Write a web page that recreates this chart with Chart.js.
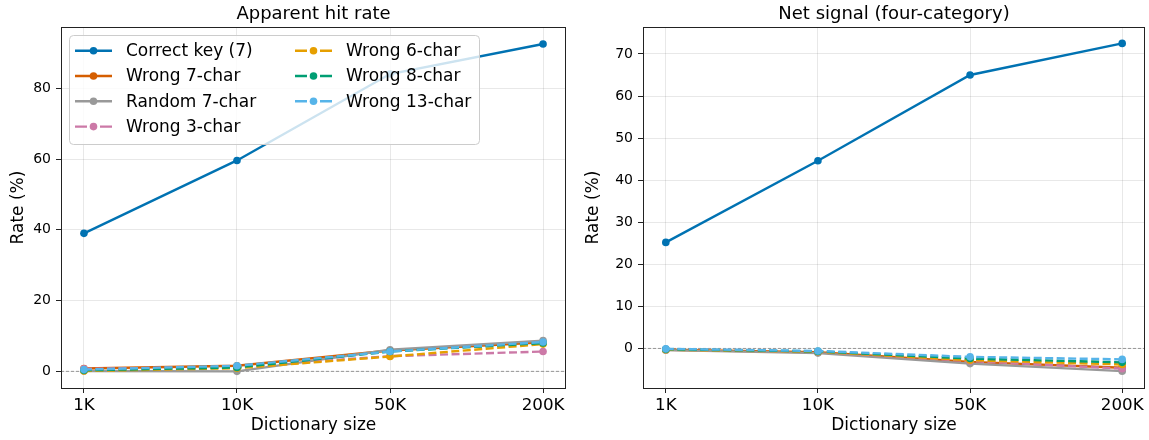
<!DOCTYPE html>
<html lang="en">
<head>
    <meta charset="UTF-8">
    <title>Apparent hit rate / Net signal</title>
    <script src="https://cdn.jsdelivr.net/npm/chart.js"></script>
    <style>
        html, body {
            margin: 0;
            padding: 0;
            background: #fff;
        }
        .panel {
            position: absolute;
            top: 0;
            height: 440px;
        }
        #leftPanel { left: 0; width: 575px; }
        #rightPanel { left: 575px; width: 574px; }
    </style>
</head>
<body>
    <div class="panel" id="leftPanel"><canvas id="hitChart"></canvas></div>
    <div class="panel" id="rightPanel"><canvas id="netChart"></canvas></div>

    <script>
        // Datos
        const dictSizes = ['1K', '10K', '50K', '200K'];
        const seriesNames = ['Correct key (7)', 'Wrong 7-char', 'Random 7-char', 'Wrong 3-char',
                             'Wrong 6-char', 'Wrong 8-char', 'Wrong 13-char'];
        const seriesColors = ['#0072B2', '#D55E00', '#999999', '#CC79A7', '#E69F00', '#009E73', '#56B4E9'];
        const seriesDashed = [false, false, false, true, true, true, true];

        // Apparent hit rate (%)
        const hitCorrect = [39.0, 59.6, 84.0, 92.5];
        const hitWrong7 = [0.8, 1.6, 5.9, 8.2];
        const hitRandom7 = [0.1, 0.0, 6.1, 8.7];
        const hitWrong3 = [0.7, 1.3, 4.3, 5.6];
        const hitWrong6 = [0.1, 0.9, 4.2, 7.7];
        const hitWrong8 = [0.3, 1.1, 5.6, 8.0];
        const hitWrong13 = [0.5, 1.6, 5.6, 8.3];

        // Net signal (four-category) (%)
        const netCorrect = [25.2, 44.6, 65.0, 72.5];
        const netWrong7 = [-0.3, -0.9, -3.2, -4.6];
        const netRandom7 = [-0.4, -1.1, -3.6, -5.4];
        const netWrong3 = [-0.2, -0.8, -3.0, -4.8];
        const netWrong6 = [-0.3, -0.8, -2.8, -3.8];
        const netWrong8 = [-0.2, -0.7, -2.4, -3.3];
        const netWrong13 = [-0.1, -0.6, -2.0, -2.6];

        const hitTicks = [0, 20, 40, 60, 80];
        const netTicks = [0, 10, 20, 30, 40, 50, 60, 70];

        const FONT = 'DejaVu Sans';
        const DASH = [8, 3.5];

        function makeDatasets(seriesList) {
            return seriesList.map((values, i) => ({
                label: seriesNames[i],
                data: values.map((v, k) => ({ x: k, y: v })),
                borderColor: seriesColors[i],
                backgroundColor: seriesColors[i],
                pointBackgroundColor: seriesColors[i],
                pointBorderWidth: 0,
                pointRadius: 3.8,
                borderWidth: 2.4,
                borderDash: seriesDashed[i] ? DASH : [],
                order: seriesList.length - i,
                tension: 0
            }));
        }

        // línea punteada en y = 0
        const zeroLine = {
            id: 'zeroLine',
            beforeDatasetsDraw(chart) {
                const { ctx, chartArea, scales } = chart;
                const y = scales.y.getPixelForValue(0);
                ctx.save();
                ctx.strokeStyle = '#808080';
                ctx.lineWidth = 0.8;
                ctx.setLineDash([3, 2]);
                ctx.beginPath();
                ctx.moveTo(chartArea.left, y);
                ctx.lineTo(chartArea.right, y);
                ctx.stroke();
                ctx.restore();
            }
        };

        // marco negro alrededor del área
        const frame = {
            id: 'frame',
            afterDraw(chart) {
                const { ctx, chartArea: a } = chart;
                ctx.save();
                ctx.strokeStyle = '#222';
                ctx.lineWidth = 1;
                ctx.strokeRect(Math.round(a.left) + 0.5, Math.round(a.top) + 0.5,
                               Math.round(a.right - a.left) - 1, Math.round(a.bottom - a.top));
                ctx.restore();
            }
        };

        // leyenda en dos columnas, dentro del gráfico
        const boxLegend = {
            id: 'boxLegend',
            afterDraw(chart) {
                const { ctx, chartArea: a } = chart;
                const sets = chart.data.datasets;
                const bx = a.left + 8, by = a.top + 8, bw = 410, bh = 109;
                ctx.save();
                ctx.fillStyle = 'rgba(255,255,255,0.8)';
                ctx.strokeStyle = '#cccccc';
                ctx.lineWidth = 1;
                ctx.beginPath();
                ctx.roundRect(bx + 0.5, by + 0.5, bw, bh, 4);
                ctx.fill();
                ctx.stroke();

                ctx.font = '17px ' + FONT;
                ctx.textBaseline = 'middle';
                ctx.textAlign = 'left';
                sets.forEach((ds, i) => {
                    const col = i < 4 ? 0 : 1;
                    const row = i < 4 ? i : i - 4;
                    const x0 = bx + 6 + col * 220;
                    const y = by + 15.7 + row * 25.3;
                    ctx.strokeStyle = ds.borderColor;
                    ctx.fillStyle = ds.borderColor;
                    ctx.lineWidth = 2.4;
                    ctx.beginPath();
                    if (seriesDashed[i]) {
                        ctx.moveTo(x0, y); ctx.lineTo(x0 + 12, y);
                        ctx.moveTo(x0 + 25, y); ctx.lineTo(x0 + 37, y);
                    } else {
                        ctx.moveTo(x0, y); ctx.lineTo(x0 + 37, y);
                    }
                    ctx.stroke();
                    ctx.beginPath();
                    ctx.arc(x0 + 18.5, y, 3.8, 0, Math.PI * 2);
                    ctx.fill();
                    ctx.fillStyle = '#000';
                    ctx.fillText(ds.label, x0 + 51, y + 1);
                });
                ctx.restore();
            }
        };

        function makeOptions(title, yMin, yMax, yTicks, yWidth, rightPad) {
            return {
                responsive: true,
                maintainAspectRatio: false,
                animation: false,
                layout: { padding: { left: 0, right: rightPad, top: 0, bottom: 0 } },
                plugins: {
                    legend: { display: false },
                    tooltip: { enabled: false },
                    title: {
                        display: true,
                        text: title,
                        fullSize: false,
                        color: '#000',
                        font: { family: FONT, size: 18, weight: 'normal' },
                        padding: { top: 4, bottom: 1.4 }
                    }
                },
                scales: {
                    x: {
                        type: 'linear',
                        min: -0.15,
                        max: 3.15,
                        afterBuildTicks: (scale) => {
                            scale.ticks = dictSizes.map((_, k) => ({ value: k }));
                        },
                        afterFit: (scale) => { scale.height = 52; },
                        ticks: {
                            callback: (v) => dictSizes[v],
                            color: '#000',
                            font: { family: FONT, size: 16.7 },
                            padding: 3,
                            maxRotation: 0
                        },
                        grid: { color: 'rgba(0,0,0,0.09)', tickColor: '#222', tickLength: 5 },
                        border: { display: false },
                        title: {
                            display: true,
                            text: 'Dictionary size',
                            color: '#000',
                            font: { family: FONT, size: 17 },
                            padding: { top: 2, bottom: 4 }
                        }
                    },
                    y: {
                        min: yMin,
                        max: yMax,
                        afterBuildTicks: (scale) => {
                            scale.ticks = yTicks.map(v => ({ value: v }));
                        },
                        afterFit: (scale) => { scale.width = yWidth; },
                        ticks: {
                            color: '#000',
                            font: { family: FONT, size: 14 },
                            padding: 5
                        },
                        grid: { color: 'rgba(0,0,0,0.09)', tickColor: '#222', tickLength: 5 },
                        border: { display: false },
                        title: {
                            display: true,
                            text: 'Rate (%)',
                            color: '#000',
                            font: { family: FONT, size: 17 },
                            padding: { top: 8, bottom: 0 }
                        }
                    }
                }
            };
        }

        const hitChart = new Chart(document.getElementById('hitChart'), {
            type: 'line',
            data: {
                datasets: makeDatasets([hitCorrect, hitWrong7, hitRandom7, hitWrong3,
                                        hitWrong6, hitWrong8, hitWrong13])
            },
            options: makeOptions('Apparent hit rate', -4.7, 97.3, hitTicks, 61, 9),
            plugins: [zeroLine, frame, boxLegend]
        });

        const netChart = new Chart(document.getElementById('netChart'), {
            type: 'line',
            data: {
                datasets: makeDatasets([netCorrect, netWrong7, netRandom7, netWrong3,
                                        netWrong6, netWrong8, netWrong13])
            },
            options: makeOptions('Net signal (four-category)', -9.4, 76.4, netTicks, 68, 2),
            plugins: [zeroLine, frame]
        });
    </script>
</body>
</html>
